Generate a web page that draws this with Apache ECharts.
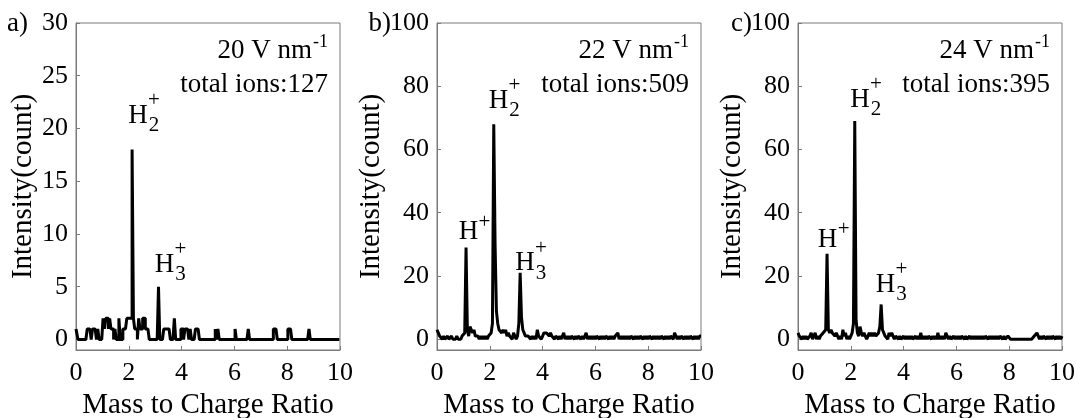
<!DOCTYPE html>
<html><head><meta charset="utf-8">
<script src="https://cdn.jsdelivr.net/npm/echarts@6/dist/echarts.min.js"></script>
<style>html,body{margin:0;padding:0;background:#fff}#c{width:1079px;height:418px}</style>
</head><body><div id="c"></div>
<script>
// ---- data (mass-to-charge bins of width 0.05, from 0 to 10) ----
const binWidth = 0.05;
const countsA = [
1,1,0,0,0,0,0,0,0,1, 1,1,0,1,1,1,0,1,0,0,
0,2,1,2,2,1,2,1,1,0, 1,0,0,2,0,0,1,1,1,2,
2,2,2,18,2,1,1,0,2,1, 1,2,2,1,1,1,0,0,0,0,
0,0,0,5,0,0,0,1,1,1, 1,1,0,0,0,2,0,0,0,0,
1,1,0,1,1,1,0,1,0,0, 0,1,1,1,0,0,0,0,0,0,
0,0,0,0,0,0,1,0,1,0, 0,0,0,0,0,0,0,0,0,0,
0,1,0,0,0,0,0,0,0,0, 0,1,0,0,0,0,0,0,0,0,
0,0,0,0,0,0,0,0,0,0, 1,1,1,0,0,0,0,0,0,0,
0,1,1,1,0,0,0,0,0,0, 0,0,0,0,0,0,0,1,0,0,
0,0,0,0,0,0,0,0,0,0, 0,0,0,0,0,0,0,0,0,0,
0];
const countsB = [
3,2,1,1,0,1,0,0,1,0, 0,1,0,0,0,1,0,0,0,1,
1,2,29,3,1,4,3,2,3,1, 1,1,0,1,0,1,0,1,0,1,
1,2,5,68,30,9,5,3,3,2, 3,2,3,1,2,1,1,0,2,1,
0,1,5,21,7,3,2,1,1,1, 1,0,1,0,1,0,3,1,1,0,
1,2,2,2,2,1,2,1,1,0, 1,1,0,1,0,1,2,0,1,0,
1,0,1,1,0,1,0,1,1,0, 1,0,1,2,0,1,0,1,0,1,
0,1,1,0,1,0,1,0,1,1, 0,1,0,1,0,1,1,2,0,1,
0,1,0,1,0,1,0,1,1,0, 1,0,1,0,1,1,0,1,0,1,
0,1,1,0,1,0,1,0,1,0, 1,1,0,1,0,1,0,1,1,0,
2,1,0,1,0,1,1,0,1,0, 1,0,1,1,0,1,0,1,0,1,
1];
const countsC = [
2,1,1,0,1,0,1,0,0,1, 2,0,1,2,0,1,0,1,1,2,
2,3,27,3,2,3,2,2,1,2, 1,0,1,0,3,1,2,0,1,0,
1,2,5,69,6,2,1,4,2,1, 2,1,0,1,2,1,2,1,2,1,
1,2,4,11,3,2,1,1,0,2, 1,2,1,0,1,1,0,1,0,0,
1,0,1,0,1,0,1,0,0,1, 0,1,0,2,0,1,0,1,0,1,
1,0,1,0,1,0,2,0,1,0, 1,0,2,1,0,1,0,0,1,0,
1,0,1,0,1,1,0,1,0,0, 1,0,1,0,1,0,1,0,1,0,
1,0,1,1,0,1,0,1,0,1, 0,1,0,1,1,0,1,0,0,1,
1,0,0,0,0,0,0,0,0,0, 0,0,0,0,0,0,0,0,0,1,
1,2,1,0,1,0,1,1,0,1, 0,1,0,1,1,0,1,0,1,0,
1];
const fieldStrengths = ['20', '22', '24'];
const totalIons = [127, 509, 395];
const panelLetters = ['a)', 'b)', 'c)'];
const xTicks = [0, 2, 4, 6, 8, 10];
const yTicksA = [0, 5, 10, 15, 20, 25, 30];
const yTicksBC = [0, 20, 40, 60, 80, 100];
// peak annotations: subscript of H, anchor (centre of "H") in data coords
const peakLabelsA = [{sub:'2', x:2.35, y:21.2}, {sub:'3', x:3.35, y:7.1}];
const peakLabelsB = [{sub:'', x:1.19, y:33.8}, {sub:'2', x:2.33, y:75.4}, {sub:'3', x:3.33, y:24}];
const peakLabelsC = [{sub:'', x:1.12, y:31.4}, {sub:'2', x:2.35, y:75.7}, {sub:'3', x:3.31, y:17.2}];

// ---- layout / style ----
const FONT = '"Liberation Serif", "Times New Roman", serif';
const AX = '#7a7a7a';
const gridLefts = [76, 437, 798];
const gridW = 264, gridTop = 23, gridH = 327;
const yMins = [-1, -3.4, -3.4];
const yMaxs = [30, 100, 100];
const yNameGaps = [34, 45, 49];
const letterRight = [28, 391, 752];
const panels = [
  {counts: countsA, ticks: yTicksA, peaks: peakLabelsA, step: 'middle'},
  {counts: countsB, ticks: yTicksBC, peaks: peakLabelsB, step: false},
  {counts: countsC, ticks: yTicksBC, peaks: peakLabelsC, step: false}
];

const grid = [], xAxis = [], yAxis = [], series = [], graphic = [];
panels.forEach((p, i) => {
  grid.push({left: gridLefts[i], top: gridTop, width: gridW, height: gridH,
    containLabel: false, outerBoundsMode: 'none',
    show: true, borderColor: AX, borderWidth: 1, backgroundColor: 'transparent'});
  xAxis.push({gridIndex: i, type: 'value', min: 0, max: 10, interval: 2,
    axisLine: {show: true, onZero: false, lineStyle: {color: AX, width: 1}},
    axisTick: {show: true, inside: true, length: 4, lineStyle: {color: AX}},
    axisLabel: {fontFamily: FONT, fontSize: 26, color: '#000', margin: 10,
      customValues: xTicks},
    splitLine: {show: false},
    name: 'Mass to Charge Ratio', nameLocation: 'middle', nameGap: 40,
    nameTextStyle: {fontFamily: FONT, fontSize: 29, color: '#000'}});
  yAxis.push({gridIndex: i, type: 'value', min: yMins[i], max: yMaxs[i],
    axisLine: {show: true, onZero: false, lineStyle: {color: AX, width: 1}},
    axisTick: {show: true, inside: true, length: 4, lineStyle: {color: AX}, customValues: p.ticks},
    axisLabel: {fontFamily: FONT, fontSize: 26, color: '#000', margin: 8, customValues: p.ticks},
    splitLine: {show: false},
    name: 'Intensity(count)', nameLocation: 'middle', nameGap: yNameGaps[i],
    nameTextStyle: {fontFamily: FONT, fontSize: 29, color: '#000'}});
  series.push({type: 'line', xAxisIndex: i, yAxisIndex: i, step: p.step,
    data: p.counts.map((v, k) => [k * binWidth, v]),
    showSymbol: false, symbol: 'none', animation: false,
    lineStyle: {color: '#000', width: 3, join: 'bevel'}});
  const gr = gridLefts[i] + gridW;
  graphic.push({type: 'text', x: gr - 28, y: 51, style: {text: fieldStrengths[i] + ' V nm',
    fontFamily: FONT, fontSize: 27, fill: '#000', textAlign: 'right', textVerticalAlign: 'middle'}});
  graphic.push({type: 'text', x: gr - 12, y: 42, style: {text: '-1',
    fontFamily: FONT, fontSize: 18, fill: '#000', textAlign: 'right', textVerticalAlign: 'middle'}});
  graphic.push({type: 'text', x: gr - 12, y: 85, style: {text: 'total ions:' + totalIons[i],
    fontFamily: FONT, fontSize: 27, fill: '#000', textAlign: 'right', textVerticalAlign: 'middle'}});
  graphic.push({type: 'text', x: letterRight[i], y: 24, style: {text: panelLetters[i],
    fontFamily: FONT, fontSize: 27, fill: '#000', textAlign: 'right', textVerticalAlign: 'middle'}});
});

const chart = echarts.init(document.getElementById('c'), null, {renderer: 'canvas'});
chart.setOption({backgroundColor: '#fff', animation: false, grid, xAxis, yAxis, series, graphic});

// peak labels H, H2+, H3+ anchored through the axes' scales
const txt = (x, y, text, size) => ({type: 'text', x, y, silent: true, z: 10, style: {text,
  fontFamily: FONT, fontSize: size, fill: '#000', textAlign: 'center', textVerticalAlign: 'middle'}});
panels.forEach((p, i) => {
  p.peaks.forEach(pk => {
    const [px, py] = chart.convertToPixel({gridIndex: i}, [pk.x, pk.y]);
    graphic.push(txt(px, py, 'H', 27));
    graphic.push(txt(px + 16, py + (pk.sub ? -15 : -10), '+', 21));
    if (pk.sub) graphic.push(txt(px + 16, py + 10, pk.sub, 21));
  });
});
chart.setOption({graphic});
</script></body></html>
